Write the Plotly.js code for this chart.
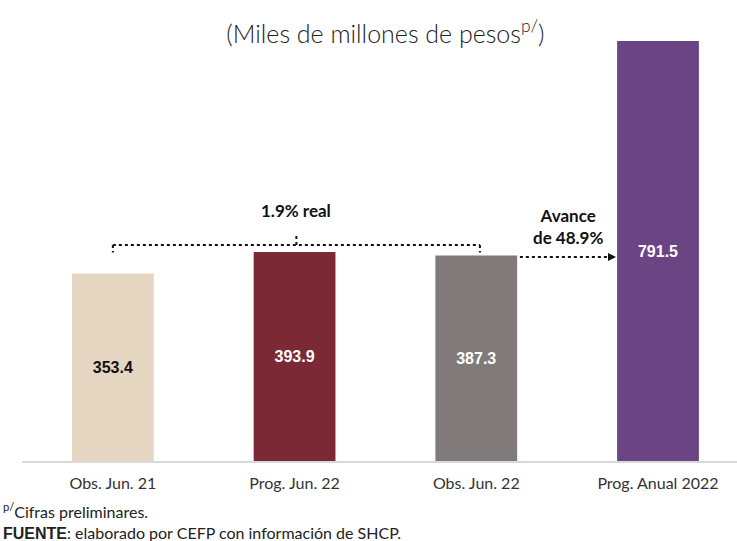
<!DOCTYPE html>
<html>
<head>
<meta charset="utf-8">
<script src="https://cdn.plot.ly/plotly-3.0.1.min.js"></script>
<style>html,body{margin:0;padding:0;background:#fff;}#chart{width:737px;height:541px;}</style>
</head>
<body>
<div id="chart"></div>
<script>
// ---- data ----
const categories = ['Obs. Jun. 21', 'Prog. Jun. 22', 'Obs. Jun. 22', 'Prog. Anual 2022'];
const values = [353.4, 393.9, 387.3, 791.5];
const valueLabels = ['353.4', '393.9', '387.3', '791.5'];
const realGrowthLabel = '1.9% real';
const advanceLabel = 'Avance<br>de 48.9%';

// ---- styles ----
const barColors = ['#E4D6C1', '#7B2935', '#807B7A', '#6B4483'];
const labelColors = ['#111111', '#ffffff', '#ffffff', '#ffffff'];
const mainFont = 'Lato, "Noto Sans", "DejaVu Sans", sans-serif';
const narrowBold = '"Liberation Sans Narrow", "Liberation Sans", Arial, sans-serif';

const W = 737, H = 541;
const mL = 22, mR = 0, mT = 0, mB = 80;
const plotW = W - mL - mR, plotH = H - mT - mB;
const px = (xpix) => (xpix - mL) / plotW;          // pixel -> paper x
const py = (ypix) => 1 - (ypix - mT) / plotH;      // pixel -> paper y

const trace = {
  type: 'bar',
  x: categories,
  y: values,
  text: valueLabels,
  textposition: 'inside',
  insidetextanchor: 'middle',
  textangle: 0,
  textfont: {family: narrowBold, size: 16, color: labelColors, weight: 'bold'},
  marker: {color: barColors, line: {width: 0}},
  width: 0.45,
  hoverinfo: 'skip'
};

const dot = {color: '#111', width: 2, dash: 'dot'};
// arrow head as a small triangle, in paper coords
const tipX = 616, tipY = 257;
const arrowPath = 'M ' + px(tipX) + ' ' + py(tipY) +
  ' L ' + px(tipX - 8) + ' ' + py(tipY - 4) +
  ' L ' + px(tipX - 8) + ' ' + py(tipY + 4) + ' Z';
const shapes = [
  // bracket
  {type: 'line', xref: 'x', yref: 'y', x0: 0, x1: 2.02, y0: 407, y1: 407, line: dot},
  {type: 'line', xref: 'x', yref: 'y', x0: 0, x1: 0, y0: 407, y1: 393, line: dot},
  {type: 'line', xref: 'x', yref: 'y', x0: 2.02, x1: 2.02, y0: 407, y1: 393, line: dot},
  {type: 'line', xref: 'x', yref: 'y', x0: 1.01, x1: 1.01, y0: 407, y1: 425, line: dot},
  // arrow shaft
  {type: 'line', xref: 'x', yref: 'y', x0: 2.24, x1: 2.72, y0: 384.5, y1: 384.5, line: dot},
  {type: 'path', xref: 'paper', yref: 'paper', path: arrowPath, fillcolor: '#111', line: {width: 0}}
];

const annotations = [
  {xref: 'x', yref: 'y', x: 1.01, y: 473, text: '<b>' + realGrowthLabel + '</b>', showarrow: false,
   font: {family: mainFont, size: 17, color: '#111'}},
  {xref: 'x', yref: 'y', x: 2.505, y: 442, text: '<b>' + advanceLabel + '</b>', showarrow: false,
   font: {family: mainFont, size: 17, color: '#111'}, align: 'center'},
  {xref: 'paper', yref: 'paper', x: px(1), y: py(510), xanchor: 'left', yanchor: 'middle',
   text: '<sup>p/</sup>Cifras preliminares.', showarrow: false,
   font: {family: mainFont, size: 16, color: '#222'}},
  {xref: 'paper', yref: 'paper', x: px(1), y: py(532), xanchor: 'left', yanchor: 'middle',
   text: '<span style="font-family:' + "'Liberation Sans Narrow', 'Liberation Sans'" + ';font-weight:bold">FUENTE</span>: elaborado por CEFP con información de SHCP.',
   showarrow: false, font: {family: mainFont, size: 16, color: '#222'}}
];

const layout = {
  width: W, height: H,
  margin: {l: mL, r: mR, t: mT, b: mB, pad: 0},
  paper_bgcolor: '#ffffff', plot_bgcolor: '#ffffff',
  showlegend: false,
  title: {text: '(Miles de millones de pesos<sup>p/</sup>)', x: 0.523, xanchor: 'center',
          y: 1 - 34 / H, yref: 'container', yanchor: 'middle',
          font: {family: mainFont, size: 25, color: '#222', weight: 300}},
  xaxis: {type: 'category', range: [-0.5, (W - mR - 113) / 181.67 - 0.0], showline: true,
          linecolor: '#d9d9d9', linewidth: 1.5, ticks: '', showgrid: false, zeroline: false,
          tickfont: {family: mainFont, size: 16, color: '#333'}, ticklabelstandoff: 7, fixedrange: true},
  yaxis: {range: [0, 868.8], visible: false, showgrid: false, zeroline: false, fixedrange: true},
  shapes: shapes,
  annotations: annotations
};

Plotly.newPlot('chart', [trace], layout, {displayModeBar: false, staticPlot: true});
</script>
</body>
</html>
